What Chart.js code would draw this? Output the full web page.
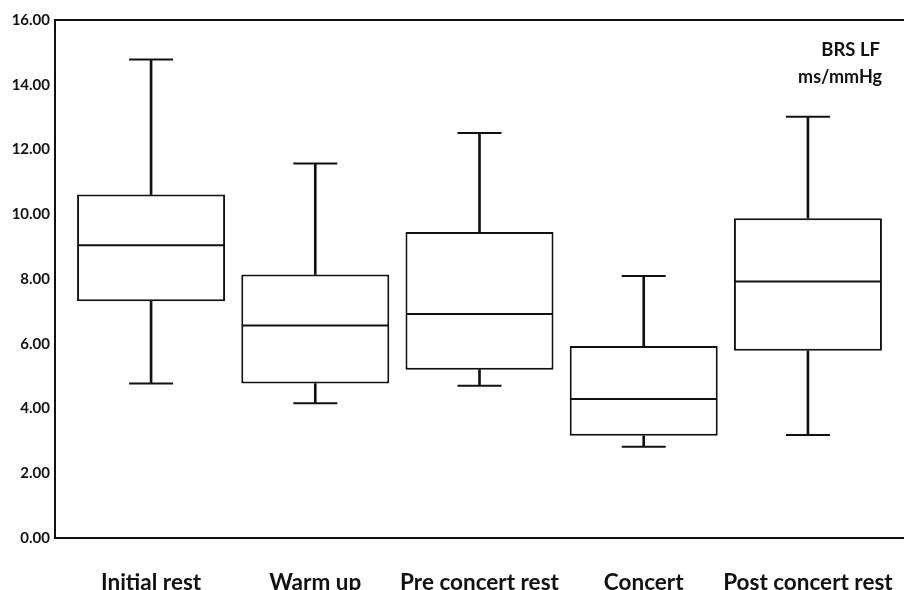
<!DOCTYPE html>
<html>
<head>
<meta charset="utf-8">
<script src="https://cdn.jsdelivr.net/npm/chart.js@4"></script>
<style>
  html, body { margin: 0; padding: 0; background: #fff; }
  #wrap { width: 904px; height: 590px; }
</style>
</head>
<body>
<div id="wrap"><canvas id="myChart"></canvas></div>
<script>
const categories = ['Initial rest', 'Warm up', 'Pre concert rest', 'Concert', 'Post concert rest'];
const whiskerLow = [4.77, 4.16, 4.70, 2.82, 3.18];
const q1 = [7.31, 4.77, 5.20, 3.16, 5.78];
const median = [9.04, 6.56, 6.92, 4.29, 7.92];
const q3 = [10.61, 8.14, 9.45, 5.93, 9.88];
const whiskerHigh = [14.78, 11.57, 12.51, 8.09, 13.01];
const yTicks = [0, 2, 4, 6, 8, 10, 12, 14, 16];

const ink = '#111';
const font = 'Lato, "Open Sans", sans-serif';

const boxes = categories.map((c, i) => ({ x: i, y: [q1[i], q3[i]] }));
const upperWhisker = categories.map((c, i) => ({ x: i, y: [q3[i], whiskerHigh[i]] }));
const lowerWhisker = categories.map((c, i) => ({ x: i, y: [whiskerLow[i], q1[i]] }));
const medians = categories.map((c, i) => ({ x: i, y: median[i] }));
const caps = categories.flatMap((c, i) => [{ x: i, y: whiskerHigh[i] }, { x: i, y: whiskerLow[i] }]);

// no automatic label padding, plot area is fixed by the axis sizes
const noPad = axis => {
    axis.paddingLeft = 0;
    axis.paddingRight = 0;
    axis.paddingTop = 0;
    axis.paddingBottom = 0;
};

// top border line + unit label
const frame = {
    id: 'frame',
    afterDraw(chart) {
        const { ctx, chartArea } = chart;
        ctx.save();
        ctx.strokeStyle = ink;
        ctx.lineWidth = 2;
        ctx.beginPath();
        ctx.moveTo(chartArea.left - 1, chartArea.top);
        ctx.lineTo(chartArea.right, chartArea.top);
        ctx.stroke();
        ctx.fillStyle = ink;
        ctx.textAlign = 'right';
        ctx.textBaseline = 'middle';
        ctx.font = 'bold 18.5px ' + font;
        ctx.fillText('BRS LF', 880, 50);
        ctx.font = 'bold 18px ' + font;
        ctx.fillText('ms/mmHg', 882, 77);
        ctx.restore();
    }
};

const ctx = document.getElementById('myChart').getContext('2d');
const myChart = new Chart(ctx, {
    type: 'bar',
    data: {
        datasets: [
            {
                data: upperWhisker,
                backgroundColor: ink,
                borderWidth: 0,
                barThickness: 2,
                grouped: false,
                order: 3
            },
            {
                data: lowerWhisker,
                backgroundColor: ink,
                borderWidth: 0,
                barThickness: 2,
                grouped: false,
                order: 3
            },
            {
                data: boxes,
                backgroundColor: '#fff',
                borderColor: ink,
                borderWidth: 2,
                borderSkipped: false,
                inflateAmount: 0,
                barThickness: 148,
                grouped: false,
                order: 2
            },
            {
                type: 'line',
                data: medians,
                showLine: false,
                pointStyle: 'line',
                pointRadius: 73,
                pointBorderWidth: 2,
                pointBorderColor: ink,
                order: 1
            },
            {
                type: 'line',
                data: caps,
                showLine: false,
                pointStyle: 'line',
                pointRadius: 22,
                pointBorderWidth: 2,
                pointBorderColor: ink,
                order: 1
            }
        ]
    },
    options: {
        responsive: true,
        maintainAspectRatio: false,
        animation: false,
        events: [],
        layout: { autoPadding: false, padding: { top: 20, right: 0, left: 0, bottom: 0 } },
        plugins: {
            legend: { display: false },
            tooltip: { enabled: false }
        },
        scales: {
            x: {
                type: 'linear',
                min: -0.585,
                max: 4.585,
                offset: false,
                grid: { display: false, offset: false },
                border: { display: true, color: ink, width: 2 },
                afterBuildTicks: axis => { axis.ticks = categories.map((c, i) => ({ value: i })); },
                afterFit: axis => { axis.height = 52; noPad(axis); },
                ticks: {
                    autoSkip: false,
                    maxRotation: 0,
                    padding: 23,
                    color: ink,
                    font: { family: font, size: 22.5, weight: 'bold' },
                    callback: v => categories[v]
                }
            },
            y: {
                min: 0,
                max: 16,
                grid: { display: false, drawTicks: false },
                border: { display: true, color: ink, width: 2 },
                afterBuildTicks: axis => { axis.ticks = yTicks.map(v => ({ value: v })); },
                afterFit: axis => { axis.width = 55; noPad(axis); },
                ticks: {
                    padding: 5,
                    color: ink,
                    font: { family: font, size: 15, weight: 'bold' },
                    callback: v => v.toFixed(2)
                }
            }
        }
    },
    plugins: [frame]
});
</script>
</body>
</html>
